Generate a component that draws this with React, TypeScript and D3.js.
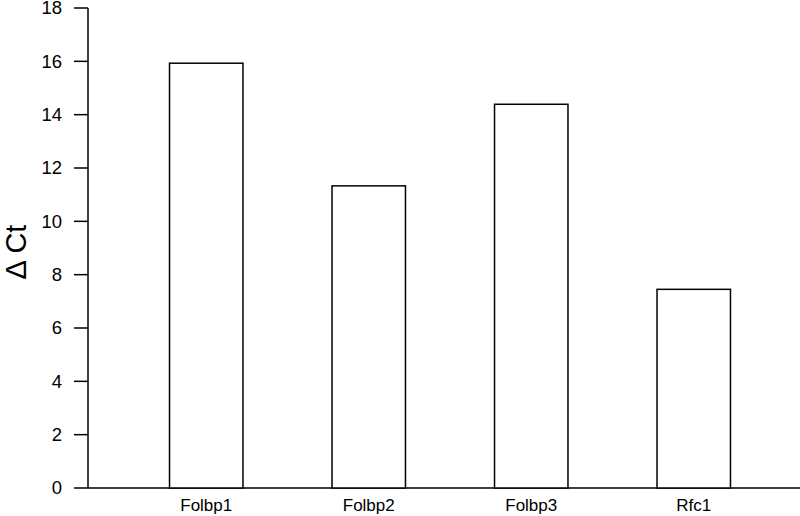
import React, { useEffect, useRef } from 'react';
import * as d3 from 'd3';

const categories = ['Folbp1', 'Folbp2', 'Folbp3', 'Rfc1'];
const deltaCt = [15.93, 11.33, 14.39, 7.45];
const yTicks = [0, 2, 4, 6, 8, 10, 12, 14, 16, 18];
const yLabel = 'Δ Ct';

const W = 800;
const H = 516;

const App: React.FC = () => {
  const svgRef = useRef<SVGSVGElement | null>(null);

  useEffect(() => {
    if (!svgRef.current) return;
    const svg = d3.select(svgRef.current);
    svg.selectAll('*').remove();

    const font = '"Liberation Sans", Arial, Helvetica, sans-serif';

    const y = d3.scaleLinear().domain([0, 18]).range([488, 8]);
    const x = d3.scaleBand<string>()
      .domain(categories)
      .range([125, 775])
      .paddingInner(0.548)
      .paddingOuter(0.274);

    const axisX = 88;

    // y axis line + ticks
    svg.append('line')
      .attr('x1', axisX).attr('x2', axisX)
      .attr('y1', y(18)).attr('y2', y(0))
      .attr('stroke', '#000').attr('stroke-width', 1.5);

    svg.selectAll('line.tick')
      .data(yTicks)
      .enter()
      .append('line')
      .attr('class', 'tick')
      .attr('x1', axisX - 14).attr('x2', axisX)
      .attr('y1', d => y(d)).attr('y2', d => y(d))
      .attr('stroke', '#000').attr('stroke-width', 1.5);

    svg.selectAll('text.ytick')
      .data(yTicks)
      .enter()
      .append('text')
      .attr('class', 'ytick')
      .attr('x', 62)
      .attr('y', d => y(d))
      .attr('dy', '0.35em')
      .attr('text-anchor', 'end')
      .style('font-family', font)
      .style('font-size', '18.5px')
      .attr('fill', '#000')
      .text(d => d);

    // baseline
    svg.append('line')
      .attr('x1', axisX).attr('x2', W)
      .attr('y1', y(0)).attr('y2', y(0))
      .attr('stroke', '#000').attr('stroke-width', 1.5);

    // bars
    svg.selectAll('rect.bar')
      .data(categories)
      .enter()
      .append('rect')
      .attr('class', 'bar')
      .attr('x', d => x(d)!)
      .attr('y', (d, i) => y(deltaCt[i]))
      .attr('width', x.bandwidth())
      .attr('height', (d, i) => y(0) - y(deltaCt[i]))
      .attr('fill', '#fff')
      .attr('stroke', '#000')
      .attr('stroke-width', 1.5);

    // category labels
    svg.selectAll('text.cat')
      .data(categories)
      .enter()
      .append('text')
      .attr('class', 'cat')
      .attr('x', d => x(d)! + x.bandwidth() / 2)
      .attr('y', 511)
      .attr('text-anchor', 'middle')
      .style('font-family', font)
      .style('font-size', '17px')
      .attr('fill', '#000')
      .text(d => d);

    // y label
    svg.append('text')
      .attr('transform', 'translate(26,252) rotate(-90)')
      .attr('text-anchor', 'middle')
      .style('font-family', font)
      .style('font-size', '29px')
      .attr('fill', '#000')
      .text(yLabel);
  }, []);

  return (
    <svg
      ref={svgRef}
      width={W}
      height={H}
      style={{ position: 'absolute', left: 0, top: 0, background: '#fff' }}
    ></svg>
  );
};

export default App;
